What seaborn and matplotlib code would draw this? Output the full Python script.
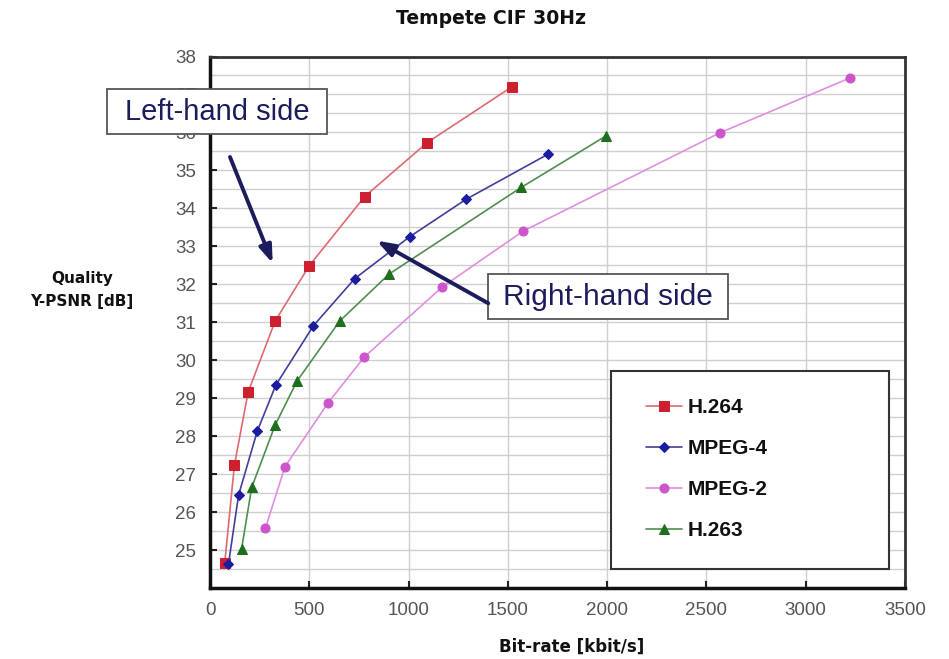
import matplotlib
matplotlib.use('Agg')
import matplotlib.pyplot as plt
import matplotlib.patches as mpatches
import seaborn as sns
import numpy as np

# ---- data ----
h264_rate = [74, 123, 192, 328, 500, 779, 1093, 1520]
h264_psnr = [24.65, 27.24, 29.16, 31.03, 32.49, 34.31, 35.73, 37.20]

mpeg4_rate = [93, 144, 238, 331, 521, 729, 1005, 1290, 1700]
mpeg4_psnr = [24.63, 26.45, 28.13, 29.34, 30.91, 32.15, 33.25, 34.24, 35.42]

mpeg2_rate = [279, 377, 595, 778, 1170, 1577, 2568, 3225]
mpeg2_psnr = [25.57, 27.19, 28.88, 30.09, 31.93, 33.40, 35.99, 37.44]

h263_rate = [159, 210, 328, 438, 653, 902, 1567, 1995]
h263_psnr = [25.03, 26.65, 28.29, 29.45, 31.03, 32.27, 34.55, 35.91]

x_ticks = [0, 500, 1000, 1500, 2000, 2500, 3000, 3500]
y_ticks = list(range(25, 39))

sns.set_style('white')
plt.rcParams['font.family'] = ['Liberation Sans', 'DejaVu Sans']

W, H = 949, 659
fig = plt.figure(figsize=(W / 100, H / 100), dpi=100)
fig.patch.set_facecolor('white')


def fx(px):
    return px / W


def fy(py):
    return 1 - py / H


ax = fig.add_axes([fx(210), fy(588), fx(905) - fx(210), fy(56.5) - fy(588)])

series = [
    ("H.264", h264_rate, h264_psnr, 's', 7.0, '#cc1f2f', '#dd6a72'),
    ("MPEG-4", mpeg4_rate, mpeg4_psnr, 'D', 5.0, '#1c1ca0', '#40409a'),
    ("MPEG-2", mpeg2_rate, mpeg2_psnr, 'o', 6.5, '#cc55cc', '#e08ee0'),
    ("H.263", h263_rate, h263_psnr, '^', 6.5, '#1e6e1e', '#4f8f4f'),
]
for name, xs, ys, mk, ms, mc, lc in series:
    sns.lineplot(x=xs, y=ys, ax=ax, sort=False, color=lc, linewidth=1.2,
                 marker=mk, markersize=ms, markerfacecolor=mc,
                 markeredgecolor=mc, label=name, zorder=3)

ax.set_xlim(0, 3500)
ax.set_ylim(24, 38)
ax.set_xticks(x_ticks)
ax.set_yticks(y_ticks)
ax.set_yticks(np.arange(24.5, 38, 1.0), minor=True)
ax.grid(True, which='major', axis='both', color='#cfcfcf', linewidth=1.0)
ax.grid(True, which='minor', axis='y', color='#cfcfcf', linewidth=1.0)
ax.set_axisbelow(True)
ax.set_xlabel('')
ax.set_ylabel('')

ax.tick_params(axis='both', which='major', direction='in', length=5, width=1.5,
               labelsize=13.5, labelcolor='#555555', color='#222222', pad=10)
ax.tick_params(axis='both', which='minor', length=0)
ax.tick_params(axis='y', left=True, right=False)
ax.tick_params(axis='x', bottom=True, top=False)
for side in ['left', 'bottom']:
    ax.spines[side].set_color('#111111')
    ax.spines[side].set_linewidth(2.5)
for side in ['top', 'right']:
    ax.spines[side].set_color('#333333')
    ax.spines[side].set_linewidth(2.0)

# legend box + legend
ax.add_patch(mpatches.Rectangle((fx(611), fy(569)), fx(889) - fx(611), fy(371) - fy(569),
                                transform=fig.transFigure, facecolor='white',
                                edgecolor='#333333', linewidth=1.5, zorder=4))
handles, labels = ax.get_legend_handles_labels()
leg = ax.legend(handles, labels, loc='upper left', bbox_to_anchor=(fx(636), fy(388)),
                bbox_transform=fig.transFigure, frameon=False, borderpad=0,
                handlelength=1.7, handletextpad=0.3, labelspacing=1.05,
                prop={'family': 'Liberation Sans', 'weight': 'bold', 'size': 15})
leg.set_zorder(5)
for t in leg.get_texts():
    t.set_color('#111111')

# titles / labels
fig.text(fx(491), fy(18), 'Tempete CIF 30Hz', ha='center', va='center',
         fontsize=13.5, fontweight='bold', family='DejaVu Sans', color='#111111')
fig.text(fx(572), fy(647), 'Bit-rate [kbit/s]', ha='center', va='center',
         fontsize=12, fontweight='bold', family='DejaVu Sans', color='#111111')
fig.text(fx(82), fy(290), 'Quality\nY-PSNR [dB]', ha='center', va='center',
         fontsize=11, fontweight='bold', family='DejaVu Sans', color='#111111',
         linespacing=1.7)

# annotation boxes
navy = '#1c1c5c'
fig.add_artist(mpatches.Rectangle((fx(107), fy(134)), fx(327) - fx(107), fy(89) - fy(134),
                                  transform=fig.transFigure, facecolor='white',
                                  edgecolor='#555555', linewidth=1.3, zorder=5))
fig.text(fx(217), fy(112), 'Left-hand side', ha='center', va='center',
         fontsize=21, color=navy, zorder=6)
fig.add_artist(mpatches.Rectangle((fx(488), fy(319)), fx(728) - fx(488), fy(274) - fy(319),
                                  transform=fig.transFigure, facecolor='white',
                                  edgecolor='#555555', linewidth=1.3, zorder=5))
fig.text(fx(608), fy(297), 'Right-hand side', ha='center', va='center',
         fontsize=21.5, color=navy, zorder=6)

# arrows
for (x0, y0, x1, y1) in [(230, 157, 272.7, 263.3), (488.3, 303.3, 376.7, 240.7)]:
    fig.add_artist(mpatches.FancyArrowPatch(
        (fx(x0), fy(y0)), (fx(x1), fy(y1)), transform=fig.transFigure,
        arrowstyle='-|>,head_length=0.7,head_width=0.25', mutation_scale=15,
        color=navy, linewidth=2.8, shrinkA=0, shrinkB=0, zorder=6))

fig.savefig('out.png', dpi=100, facecolor='white')
